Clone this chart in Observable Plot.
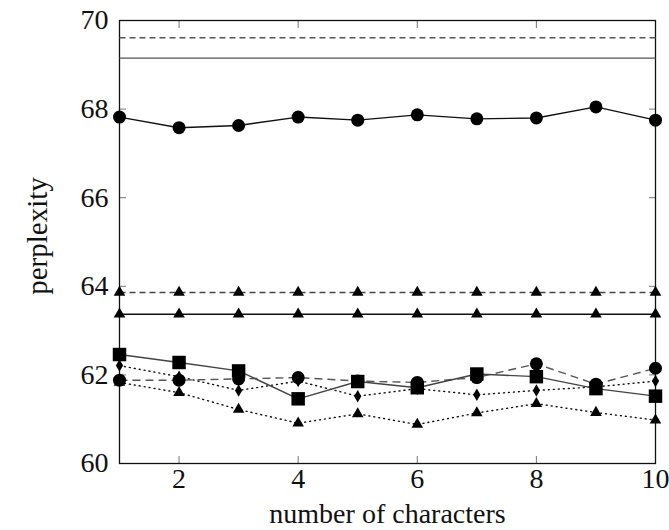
<!DOCTYPE html>
<html>
<head>
<meta charset="utf-8">
<script src="https://cdn.jsdelivr.net/npm/d3@7"></script>
<script src="https://cdn.jsdelivr.net/npm/@observablehq/plot@0.6"></script>
<style>
  html, body { margin: 0; padding: 0; background: #fff; }
</style>
</head>
<body>
<div id="chart"></div>
<script>
// number of characters
const chars = [1, 2, 3, 4, 5, 6, 7, 8, 9, 10];

// series values (perplexity)
const flatDashedTop   = [69.61, 69.61, 69.61, 69.61, 69.61, 69.61, 69.61, 69.61, 69.61, 69.61];
const flatSolidTop    = [69.15, 69.15, 69.15, 69.15, 69.15, 69.15, 69.15, 69.15, 69.15, 69.15];
const circlesSolidTop = [67.82, 67.58, 67.63, 67.82, 67.75, 67.87, 67.78, 67.80, 68.05, 67.75];
const trianglesDashed = [63.86, 63.86, 63.86, 63.86, 63.86, 63.86, 63.86, 63.86, 63.86, 63.86];
const trianglesSolid  = [63.37, 63.37, 63.37, 63.37, 63.37, 63.37, 63.37, 63.37, 63.37, 63.37];
const squaresSolid    = [62.46, 62.28, 62.09, 61.46, 61.85, 61.71, 62.02, 61.96, 61.69, 61.52];
const circlesDashed   = [61.88, 61.88, 61.91, 61.94, 61.86, 61.83, 61.94, 62.25, 61.79, 62.15];
const diamondsDotted  = [62.21, 61.96, 61.65, 61.86, 61.52, 61.69, 61.55, 61.65, 61.73, 61.86];
const trianglesDotted = [61.83, 61.60, 61.22, 60.91, 61.12, 60.88, 61.14, 61.35, 61.15, 60.98];

// tick labels
const xTickLabels = [2, 4, 6, 8, 10];
const xTickMarks = [2, 4, 6, 8];
const yTickLabels = [60, 62, 64, 66, 68, 70];
const yTickMarks = [62, 64, 66, 68];

const rows = ys => chars.map((c, i) => ({x: c, y: ys[i]}));

const series = [
  {ys: flatDashedTop,   stroke: "#555", dash: "6,4", symbol: null},
  {ys: flatSolidTop,    stroke: "#555", dash: null,  symbol: null},
  {ys: circlesSolidTop, stroke: "#111", dash: null,  symbol: "circle", r: 6.5},
  {ys: trianglesDashed, stroke: "#444", dash: "6,4", symbol: "triangle", r: 4.3},
  {ys: trianglesSolid,  stroke: "#111", dash: null,  symbol: "triangle", r: 4.3},
  {ys: trianglesDotted, stroke: "#111", dash: "1,4", symbol: "triangle", r: 4.3},
  {ys: diamondsDotted,  stroke: "#111", dash: "1,4", symbol: "diamond", r: 3.8},
  {ys: circlesDashed,   stroke: "#555", dash: "8,5", symbol: "circle", r: 6.5},
  {ys: squaresSolid,    stroke: "#444", dash: null,  symbol: "square", r: 7.6}
];

const marks = [];
for (const s of series) {
  const data = rows(s.ys);
  marks.push(Plot.line(data, {x: "x", y: "y", stroke: s.stroke, strokeWidth: 1.4, strokeDasharray: s.dash || undefined, strokeLinecap: s.dash === "1,4" ? "round" : "butt"}));
  if (s.symbol) {
    marks.push(Plot.dot(data, {x: "x", y: "y", symbol: s.symbol, r: s.r, fill: "#000", stroke: "none"}));
  }
}

const plot = Plot.plot({
  width: 669,
  height: 530,
  marginLeft: 119,
  marginRight: 14,
  marginTop: 20,
  marginBottom: 67,
  x: {domain: [1, 10]},
  y: {domain: [60, 70]},
  style: {fontFamily: "'Liberation Serif', 'DejaVu Serif', serif", fontSize: "28px", color: "#111", background: "#fff"},
  marks: [
    // inward tick marks
    Plot.axisX(xTickMarks, {anchor: "bottom", tickSize: -7, tickFormat: () => "", stroke: "#777", label: null}),
    Plot.axisX(xTickMarks, {anchor: "top", tickSize: -7, tickFormat: () => "", stroke: "#777", label: null}),
    Plot.axisY(yTickMarks, {anchor: "left", tickSize: -7, tickFormat: () => "", stroke: "#777", label: null}),
    Plot.axisY(yTickMarks, {anchor: "right", tickSize: -7, tickFormat: () => "", stroke: "#777", label: null}),
    // tick labels
    Plot.axisX(xTickLabels, {anchor: "bottom", tickSize: 0, tickPadding: 5, fontSize: 28, label: null}),
    Plot.axisY(yTickLabels, {anchor: "left", tickSize: 0, tickPadding: 11, fontSize: 28, label: null}),
    Plot.frame({stroke: "#111", strokeWidth: 1.3}),
    ...marks,
    Plot.text(["perplexity"], {frameAnchor: "left", rotate: -90, dx: -82, dy: -6, textAnchor: "middle", lineAnchor: "middle", fontSize: 29, text: d => d}),
    Plot.text(["number of characters"], {frameAnchor: "bottom", lineAnchor: "bottom", dy: 59, fontSize: 28, text: d => d})
  ]
});
document.getElementById("chart").appendChild(plot);
</script>
</body>
</html>
